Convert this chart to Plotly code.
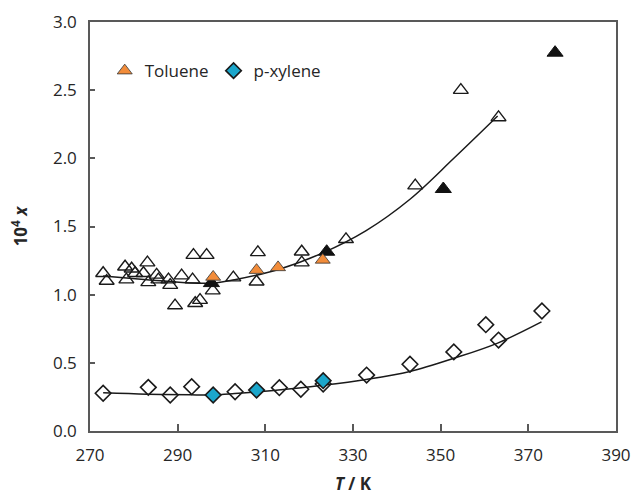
import plotly.graph_objects as go

# Toluene literature data (open triangles)
tol_lit_T = [273.0, 273.8, 278.0, 279.5, 278.3, 280.3, 283.1, 282.2, 283.3, 285.2, 285.6,
             287.9, 288.3, 290.9, 293.6, 293.4, 296.6, 289.4, 294.0, 295.1, 298.0, 302.7,
             308.3, 308.0, 318.3, 318.3, 328.4, 344.2, 354.6, 363.2]
tol_lit_x = [1.157, 1.10, 1.205, 1.19, 1.11, 1.157, 1.235, 1.157, 1.09, 1.145, 1.11,
             1.11, 1.07, 1.14, 1.29, 1.11, 1.29, 0.92, 0.937, 0.96, 1.03, 1.125,
             1.31, 1.095, 1.315, 1.235, 1.406, 1.80, 2.50, 2.30]

# Toluene, this work (orange) and other (black)
tol_T = [298.1, 308.0, 312.9, 323.1]
tol_x = [1.13, 1.18, 1.20, 1.255]
tol_blk_T = [297.7, 324.0, 350.6, 376.1]
tol_blk_x = [1.085, 1.315, 1.775, 2.775]

# Toluene fitted curve
tol_fit_T = [273, 283, 293, 298, 303, 313, 323, 333, 343, 353, 363]
tol_fit_x = [1.137, 1.11, 1.085, 1.085, 1.11, 1.185, 1.305, 1.47, 1.70, 2.00, 2.31]

# p-xylene literature data (open diamonds)
px_lit_T = [273.0, 283.3, 288.3, 293.2, 303.1, 313.2, 318.1, 323.2, 333.1, 343.0, 353.0,
            360.3, 363.2, 373.1]
px_lit_x = [0.277, 0.32, 0.264, 0.325, 0.288, 0.318, 0.306, 0.345, 0.41, 0.49, 0.58,
            0.78, 0.667, 0.88]

# p-xylene, this work (blue)
px_T = [298.1, 308.0, 323.2]
px_x = [0.264, 0.30, 0.369]

# p-xylene fitted curve
px_fit_T = [273, 283, 293, 298, 303, 313, 323, 333, 343, 353, 363, 373]
px_fit_x = [0.28, 0.27, 0.265, 0.265, 0.275, 0.30, 0.335, 0.378, 0.437, 0.533, 0.645, 0.80]

x_ticks = [270, 290, 310, 330, 350, 370, 390]
y_ticks = [0.0, 0.5, 1.0, 1.5, 2.0, 2.5, 3.0]

FONT = "Open Sans"
INK = "#1a1a1a"
fig = go.Figure()

fig.add_trace(go.Scatter(x=tol_lit_T, y=tol_lit_x, mode="markers", showlegend=False,
                         marker=dict(symbol="triangle-up-open", size=13, color=INK,
                                     line=dict(color=INK, width=1.4))))
fig.add_trace(go.Scatter(x=px_lit_T, y=px_lit_x, mode="markers", showlegend=False,
                         marker=dict(symbol="diamond-open", size=12, color=INK,
                                     line=dict(color=INK, width=1.6))))
fig.add_trace(go.Scatter(x=tol_fit_T, y=tol_fit_x, mode="lines", showlegend=False,
                         line=dict(color=INK, width=1.5, shape="spline")))
fig.add_trace(go.Scatter(x=px_fit_T, y=px_fit_x, mode="lines", showlegend=False,
                         line=dict(color=INK, width=1.5, shape="spline")))
fig.add_trace(go.Scatter(x=tol_blk_T, y=tol_blk_x, mode="markers", showlegend=False,
                         marker=dict(symbol="triangle-up", size=14, color="#111111",
                                     line=dict(color="#111111", width=1))))
fig.add_trace(go.Scatter(x=tol_T, y=tol_x, mode="markers", name="Toluene",
                         marker=dict(symbol="triangle-up", size=13, color="#F28C3A",
                                     line=dict(color="#333333", width=0.8))))
fig.add_trace(go.Scatter(x=px_T, y=px_x, mode="markers", name="p-xylene",
                         marker=dict(symbol="diamond", size=12, color="#1BA6CB",
                                     line=dict(color=INK, width=1.6))))

axis_common = dict(showgrid=False, zeroline=False, showline=True, mirror=True,
                   linecolor="#595959", linewidth=1.5, ticks="inside", tickcolor="#595959",
                   tickwidth=1.5, automargin=False,
                   tickfont=dict(family=FONT, size=17, color="#262626"))

fig.update_xaxes(range=[270, 390], tickvals=x_ticks, ticktext=[str(v) for v in x_ticks],
                 ticklen=7, ticklabelstandoff=8,
                 title=dict(text="<b><i>T</i> / K</b>", font=dict(family=FONT, size=17, color="#262626"),
                            standoff=13),
                 **axis_common)
fig.update_yaxes(range=[0, 3.0], tickvals=y_ticks, ticktext=[f"{v:.1f}" for v in y_ticks],
                 ticklen=5, ticklabelstandoff=8,
                 title=dict(text="<b>10<sup>4</sup> <i>x</i></b>", font=dict(family=FONT, size=17, color="#262626"),
                            standoff=21),
                 **axis_common)

fig.update_layout(
    width=632, height=501,
    margin=dict(l=90, r=16, t=22, b=70),
    plot_bgcolor="white", paper_bgcolor="white",
    legend=dict(orientation="h", x=0.028, y=0.88, yanchor="middle", xanchor="left",
                font=dict(family=FONT, size=17, color="#262626"),
                bgcolor="rgba(0,0,0,0)", itemwidth=30, tracegroupgap=0),
)

fig.write_html("out.html", config={"displayModeBar": False},
               post_script="document.body.style.margin='0px';document.body.style.padding='0px';")
